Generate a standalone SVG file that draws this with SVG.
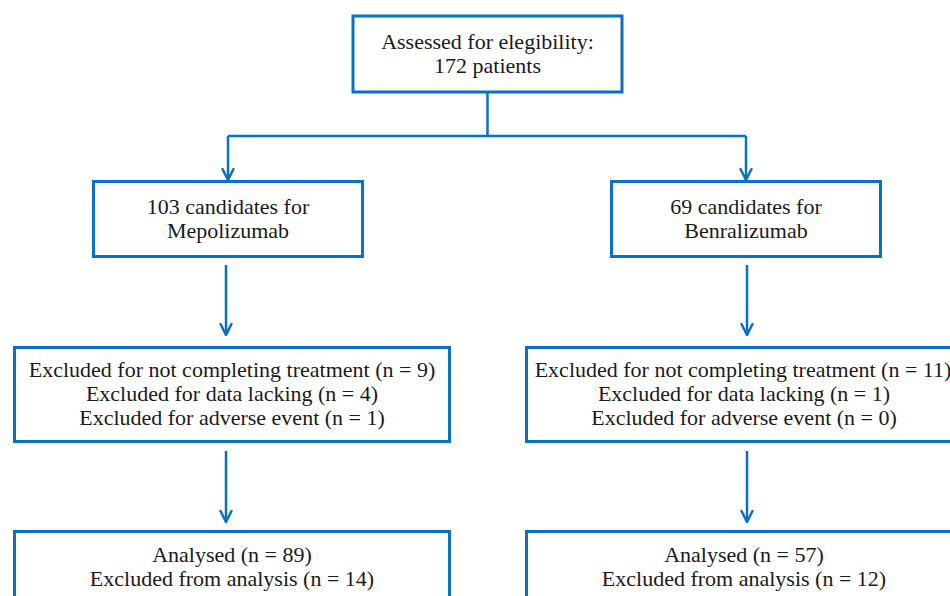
<svg xmlns="http://www.w3.org/2000/svg" width="950" height="596" viewBox="0 0 950 596">
<style>
.box{fill:#fff;stroke:#0a71c2;stroke-width:3}
.ln{fill:none;stroke:#0a71c2;stroke-width:2.5}
.ah{fill:none;stroke:#0a71c2;stroke-width:2.5;stroke-linecap:round;stroke-linejoin:round}
.t{font-family:'Liberation Serif','Times New Roman',Times,serif;font-size:22px;fill:#1a1a1a;text-anchor:middle}
</style>
<rect width="950" height="596" fill="#fff"/>
<g id="connectors">
<path class="ln" d="M487.5 92 V136 M228 136 H746 M228 136 V180 M746 136 V180"/>
<path class="ah" d="M222.5 169 L228 180 L233.5 169 M740.5 169 L746 180 L751.5 169"/>
<path class="ln" d="M226 265 V335 M747 265 V335"/>
<path class="ah" d="M220.5 324 L226 335 L231.5 324 M741.5 324 L747 335 L752.5 324"/>
<path class="ln" d="M226 451 V522 M747 451 V522"/>
<path class="ah" d="M220.5 511 L226 522 L231.5 511 M741.5 511 L747 522 L752.5 511"/>
</g>
<g class="t">
<g id="assessed">
<rect class="box" x="353" y="16" width="269" height="76"/>
<text x="487.5" y="49">Assessed for elegibility:</text>
<text x="487.5" y="73">172 patients</text>
</g>
<g id="mepolizumab">
<rect class="box" x="93.5" y="181.5" width="269" height="75"/>
<text x="228" y="214">103 candidates for</text>
<text x="228" y="238">Mepolizumab</text>
</g>
<g id="benralizumab">
<rect class="box" x="611.5" y="181.5" width="269" height="75"/>
<text x="746" y="214">69 candidates for</text>
<text x="746" y="238">Benralizumab</text>
</g>
<g id="excluded-mepo">
<rect class="box" x="14.5" y="347.5" width="435" height="94"/>
<text x="232" y="377">Excluded for not completing treatment (n = 9)</text>
<text x="232" y="401">Excluded for data lacking (n = 4)</text>
<text x="232" y="425">Excluded for adverse event (n = 1)</text>
</g>
<g id="excluded-benra">
<rect class="box" x="526.5" y="347.5" width="440" height="94"/>
<text x="743" y="377">Excluded for not completing treatment (n = 11)</text>
<text x="744" y="401">Excluded for data lacking (n = 1)</text>
<text x="744" y="425">Excluded for adverse event (n = 0)</text>
</g>
<g id="analysed-mepo">
<rect class="box" x="14.5" y="531.5" width="435" height="80"/>
<text x="232" y="562">Analysed (n = 89)</text>
<text x="232" y="586">Excluded from analysis (n = 14)</text>
</g>
<g id="analysed-benra">
<rect class="box" x="526.5" y="531.5" width="440" height="80"/>
<text x="744" y="562">Analysed (n = 57)</text>
<text x="744" y="586">Excluded from analysis (n = 12)</text>
</g>
</g>
</svg>
